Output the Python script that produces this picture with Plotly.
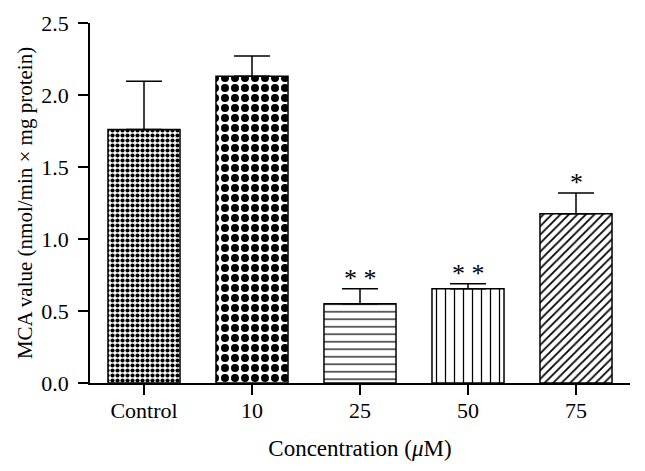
import plotly.graph_objects as go

categories = ["Control", "10", "25", "50", "75"]
values = [1.76, 2.13, 0.55, 0.655, 1.175]
errors = [0.335, 0.14, 0.105, 0.035, 0.145]
stars = ["", "", "* *", "* *", "*"]
y_ticks = [0.0, 0.5, 1.0, 1.5, 2.0, 2.5]

shapes = [".", ".", "-", "|", "/"]
psize = [5, 10, 7.5, 9, 6]
psolid = [0.55, 0.5, 0.16, 0.14, 0.3]

FONT = "Liberation Serif, DejaVu Serif, serif"

fig = go.Figure()
fig.add_trace(go.Bar(
    x=list(range(len(categories))),
    y=values,
    width=0.667,
    marker=dict(
        color="white",
        line=dict(color="black", width=1.5),
        pattern=dict(shape=shapes, size=psize, solidity=psolid,
                     fgcolor="black", bgcolor="white", fillmode="replace"),
    ),
    error_y=dict(type="data", array=errors, arrayminus=[0] * len(errors),
                 symmetric=False, color="black", thickness=1.5, width=18),
    showlegend=False,
))

for i, s in enumerate(stars):
    if s:
        fig.add_annotation(x=i, y=values[i] + errors[i], text=s, showarrow=False,
                           yanchor="bottom", yshift=-6,
                           font=dict(family=FONT, size=26, color="black"))

fig.update_layout(
    width=645, height=471,
    margin=dict(l=82, r=23, t=15, b=96),
    paper_bgcolor="white", plot_bgcolor="white",
    font=dict(family=FONT, size=22, color="black"),
)
fig.update_xaxes(
    range=[-0.5, 4.5], tickmode="array", tickvals=list(range(len(categories))),
    ticktext=categories, showline=True, linecolor="black", linewidth=1.5,
    ticks="outside", ticklen=10, tickwidth=1.5, tickcolor="black",
    showgrid=False, zeroline=False, automargin=False, ticklabelstandoff=-3,
    title=dict(text="Concentration (<i>μ</i>M)", font=dict(size=23), standoff=18),
)
fig.update_yaxes(
    range=[0, 2.5], tickmode="array", tickvals=y_ticks,
    ticktext=[f"{v:.1f}" for v in y_ticks],
    showline=True, linecolor="black", linewidth=1.5,
    ticks="outside", ticklen=10, tickwidth=1.5, tickcolor="black",
    showgrid=False, zeroline=False, automargin=False, ticklabelstandoff=5,
    title=dict(text="MCA value (nmol/min × mg protein)", font=dict(size=21), standoff=3),
)

fig.write_html("out.html")
